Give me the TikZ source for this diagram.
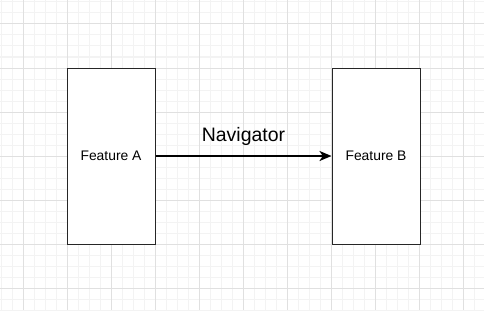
\documentclass[tikz,border=0pt]{standalone}
\usepackage{fontspec}
\setmainfont{Liberation Sans}
\usetikzlibrary{positioning,arrows.meta}

\definecolor{gridminor}{HTML}{F3F3F3}
\definecolor{gridmajor}{HTML}{E0E0E0}

\begin{document}
\begin{tikzpicture}[
    x=0.75pt, y=-0.75pt,
    node distance=132pt,
    % Node styles
    feature/.style={draw=black!85, line width=0.75pt, fill=white, minimum width=66pt, minimum height=132pt, font=\fontsize{10.4}{12}\selectfont},
    arrow/.style={-{Stealth[length=9pt,width=7.5pt,inset=2.5pt]}, line width=1.5pt, draw=black},
]

    \useasboundingbox (0,0) rectangle (484,310);
    \fill[white] (0,0) rectangle (484,310);

    % Background grid
    \foreach \i in {0,...,44} {
        \draw[gridminor, line width=0.75pt] (1+11*\i,0) -- (1+11*\i,310);
    }
    \foreach \i in {0,...,28} {
        \draw[gridminor, line width=0.75pt] (0,2+11*\i) -- (484,2+11*\i);
    }
    \foreach \i in {0,...,10} {
        \draw[gridmajor, line width=0.75pt] (23+44*\i,0) -- (23+44*\i,310);
    }
    \foreach \i in {0,...,6} {
        \draw[gridmajor, line width=0.75pt] (0,24+44*\i) -- (484,24+44*\i);
    }

    % Define nodes here
    \node[feature] (fa) at (111,156) {Feature A};
    \node[feature, right=of fa] (fb) {Feature B};

    % Draw connections
    \draw[arrow] (fa) -- node[anchor=base, yshift=11.25pt, inner sep=0pt, font=\fontsize{14.6}{17}\selectfont] (nav) {Navigator} (fb);

\end{tikzpicture}
\end{document}
